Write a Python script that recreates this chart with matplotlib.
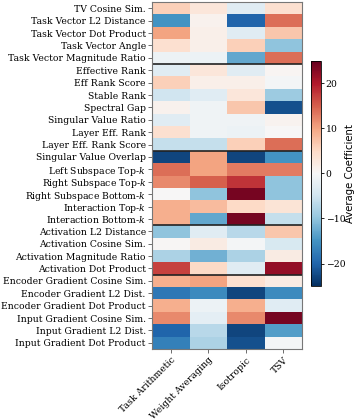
import matplotlib
matplotlib.use('Agg')
import matplotlib.pyplot as plt
import numpy as np

plt.rcParams['font.family'] = 'DejaVu Serif'
plt.rcParams['mathtext.fontset'] = 'dejavuserif'

methods = ['Task Arithmetic', 'Weight Averaging', 'Isotropic', 'TSV']

metrics = [
    'TV Cosine Sim.',
    'Task Vector L2 Distance',
    'Task Vector Dot Product',
    'Task Vector Angle',
    'Task Vector Magnitude Ratio',
    'Effective Rank',
    'Eff Rank Score',
    'Stable Rank',
    'Spectral Gap',
    'Singular Value Ratio',
    'Layer Eff. Rank',
    'Layer Eff. Rank Score',
    'Singular Value Overlap',
    'Left Subspace Top-$k$',
    'Right Subspace Top-$k$',
    'Right Subspace Bottom-$k$',
    'Interaction Top-$k$',
    'Interaction Bottom-$k$',
    'Activation L2 Distance',
    'Activation Cosine Sim.',
    'Activation Magnitude Ratio',
    'Activation Dot Product',
    'Encoder Gradient Cosine Sim.',
    'Encoder Gradient L2 Dist.',
    'Encoder Gradient Dot Product',
    'Input Gradient Cosine Sim.',
    'Input Gradient L2 Dist.',
    'Input Gradient Dot Product',
]

# average coefficient per metric, one list per merging method
task_arith = [6, -15, 10, 4, -1.5, -3, 6, -5, 1, -3, 4, -6, -23, 14, 12, 0,
              9, 9, -10, 0.3, -8, 17, 9, -18, 9, 12, -20, -17]
weight_avg = [3, 1, 1.5, 1.5, -1.5, 3, 1.5, -3, -1, -1, -1, -6, 10, 10, 15, -10,
              8, -13, -3, 2, -12, 5, 10, -16, -1.5, -2.5, -7, -8]
isotropic = [-3, -20, -3, 6, -13, -3, 1.5, 3, 7, -1, -1.5, 6, -23, 13, 18, 24,
             5, 24, -7, -0.5, -8, -3, 4, -23, 9, 12, -23, -22]
tsv = [4, 14, 7, -10, 14, 0.5, -0.5, -9, -22, 0.8, 0, 14, -15, 13, -10, -10,
       3.5, -6, 7, -4, 2, 22, 2, -16, -3, 24, -14, -0.5]

# rows after which a group separator is drawn
group_breaks = [5, 12, 18, 22]

data = np.array([task_arith, weight_avg, isotropic, tsv]).T

fig = plt.figure(figsize=(3.57, 4.2), dpi=100)
ax = fig.add_axes([0.426, 0.169, 0.42, 0.826])
cax = fig.add_axes([0.871, 0.319, 0.028, 0.536])

mesh = ax.pcolormesh(data, cmap='RdBu_r', vmin=-25, vmax=25)
ax.set_xlim(0, len(methods))
ax.set_ylim(len(metrics), 0)

for b in group_breaks:
    ax.axhline(b, color='#222222', lw=1.2)

fs = 6.7
ax.set_yticks(np.arange(len(metrics)) + 0.5)
ax.set_yticklabels(metrics, fontsize=fs)
ax.set_xticks(np.arange(len(methods)) + 0.5)
ax.set_xticklabels(methods, fontsize=fs, rotation=45, ha='right', rotation_mode='anchor')
ax.tick_params(length=3, width=0.6, color='#555555', pad=1.5)
for s in ax.spines.values():
    s.set_color('#777777')
    s.set_linewidth(0.8)

cb = fig.colorbar(mesh, cax=cax)
cb.set_ticks([-20, -10, 0, 10, 20])
cb.ax.tick_params(labelsize=fs, length=2.5, width=0.6, pad=1)
cb.outline.set_linewidth(0.6)
cb.set_label('Average Coefficient', fontsize=7.3, family='DejaVu Sans', labelpad=0)

fig.savefig('out.png', dpi=100)
